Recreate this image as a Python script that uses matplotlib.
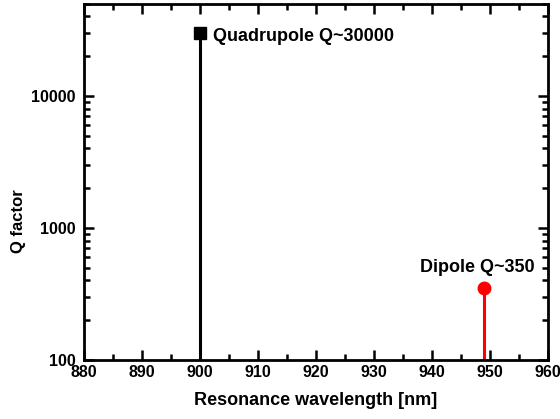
import matplotlib.pyplot as plt
from matplotlib.ticker import LogLocator, FixedLocator, NullFormatter, MultipleLocator

plt.rcParams['font.family'] = ['Liberation Sans', 'DejaVu Sans']
plt.rcParams['font.weight'] = 'bold'

# modes: wavelength [nm] and Q factor
modos = ['Quadrupole', 'Dipole']
comprimento = [900, 949]
q_fator = [30000, 350]
rotulos = ['Quadrupole Q~30000', 'Dipole Q~350']
cores = ['black', 'red']
marcadores = ['s', 'o']

fig = plt.figure(figsize=(5.6, 4.19), dpi=100)
ax = fig.add_axes([0.15, 0.1408, 0.8286, 0.8508])

for x, q, c, m in zip(comprimento, q_fator, cores, marcadores):
    ax.plot([x, x], [100, q], color=c, lw=2.2, solid_capstyle='butt', zorder=2)
    ax.plot(x, q, marker=m, color=c, ms=8 if m == 's' else 9, zorder=3)

ax.text(902.2, 26000, rotulos[0], fontsize=13, fontweight='bold',
        va='baseline', ha='left')
ax.text(937.9, 461, rotulos[1], fontsize=13, fontweight='bold',
        va='baseline', ha='left')

ax.set_yscale('log')
ax.set_xlim(880, 960)
ax.set_ylim(100, 50000)
ax.xaxis.set_major_locator(MultipleLocator(10))
ax.xaxis.set_minor_locator(MultipleLocator(5))
ax.yaxis.set_major_locator(FixedLocator([100, 1000, 10000]))
ax.yaxis.set_minor_locator(LogLocator(base=10, subs=range(2, 10)))
ax.yaxis.set_minor_formatter(NullFormatter())
ax.set_yticklabels(['100', '1000', '10000'])

ax.tick_params(which='both', direction='in', top=True, right=True, width=1.8,
               labelsize=11.5)
ax.tick_params(axis='y', pad=6)
ax.tick_params(which='major', length=7)
ax.tick_params(which='minor', length=4)
for s in ax.spines.values():
    s.set_linewidth(2)

ax.set_xlabel('Resonance wavelength [nm]', fontsize=13, fontweight='bold', labelpad=9)
ax.set_ylabel('Q factor', fontsize=12, fontweight='bold')
ax.yaxis.set_label_coords(-0.124, 0.39)

fig.savefig('out.png', dpi=100)
